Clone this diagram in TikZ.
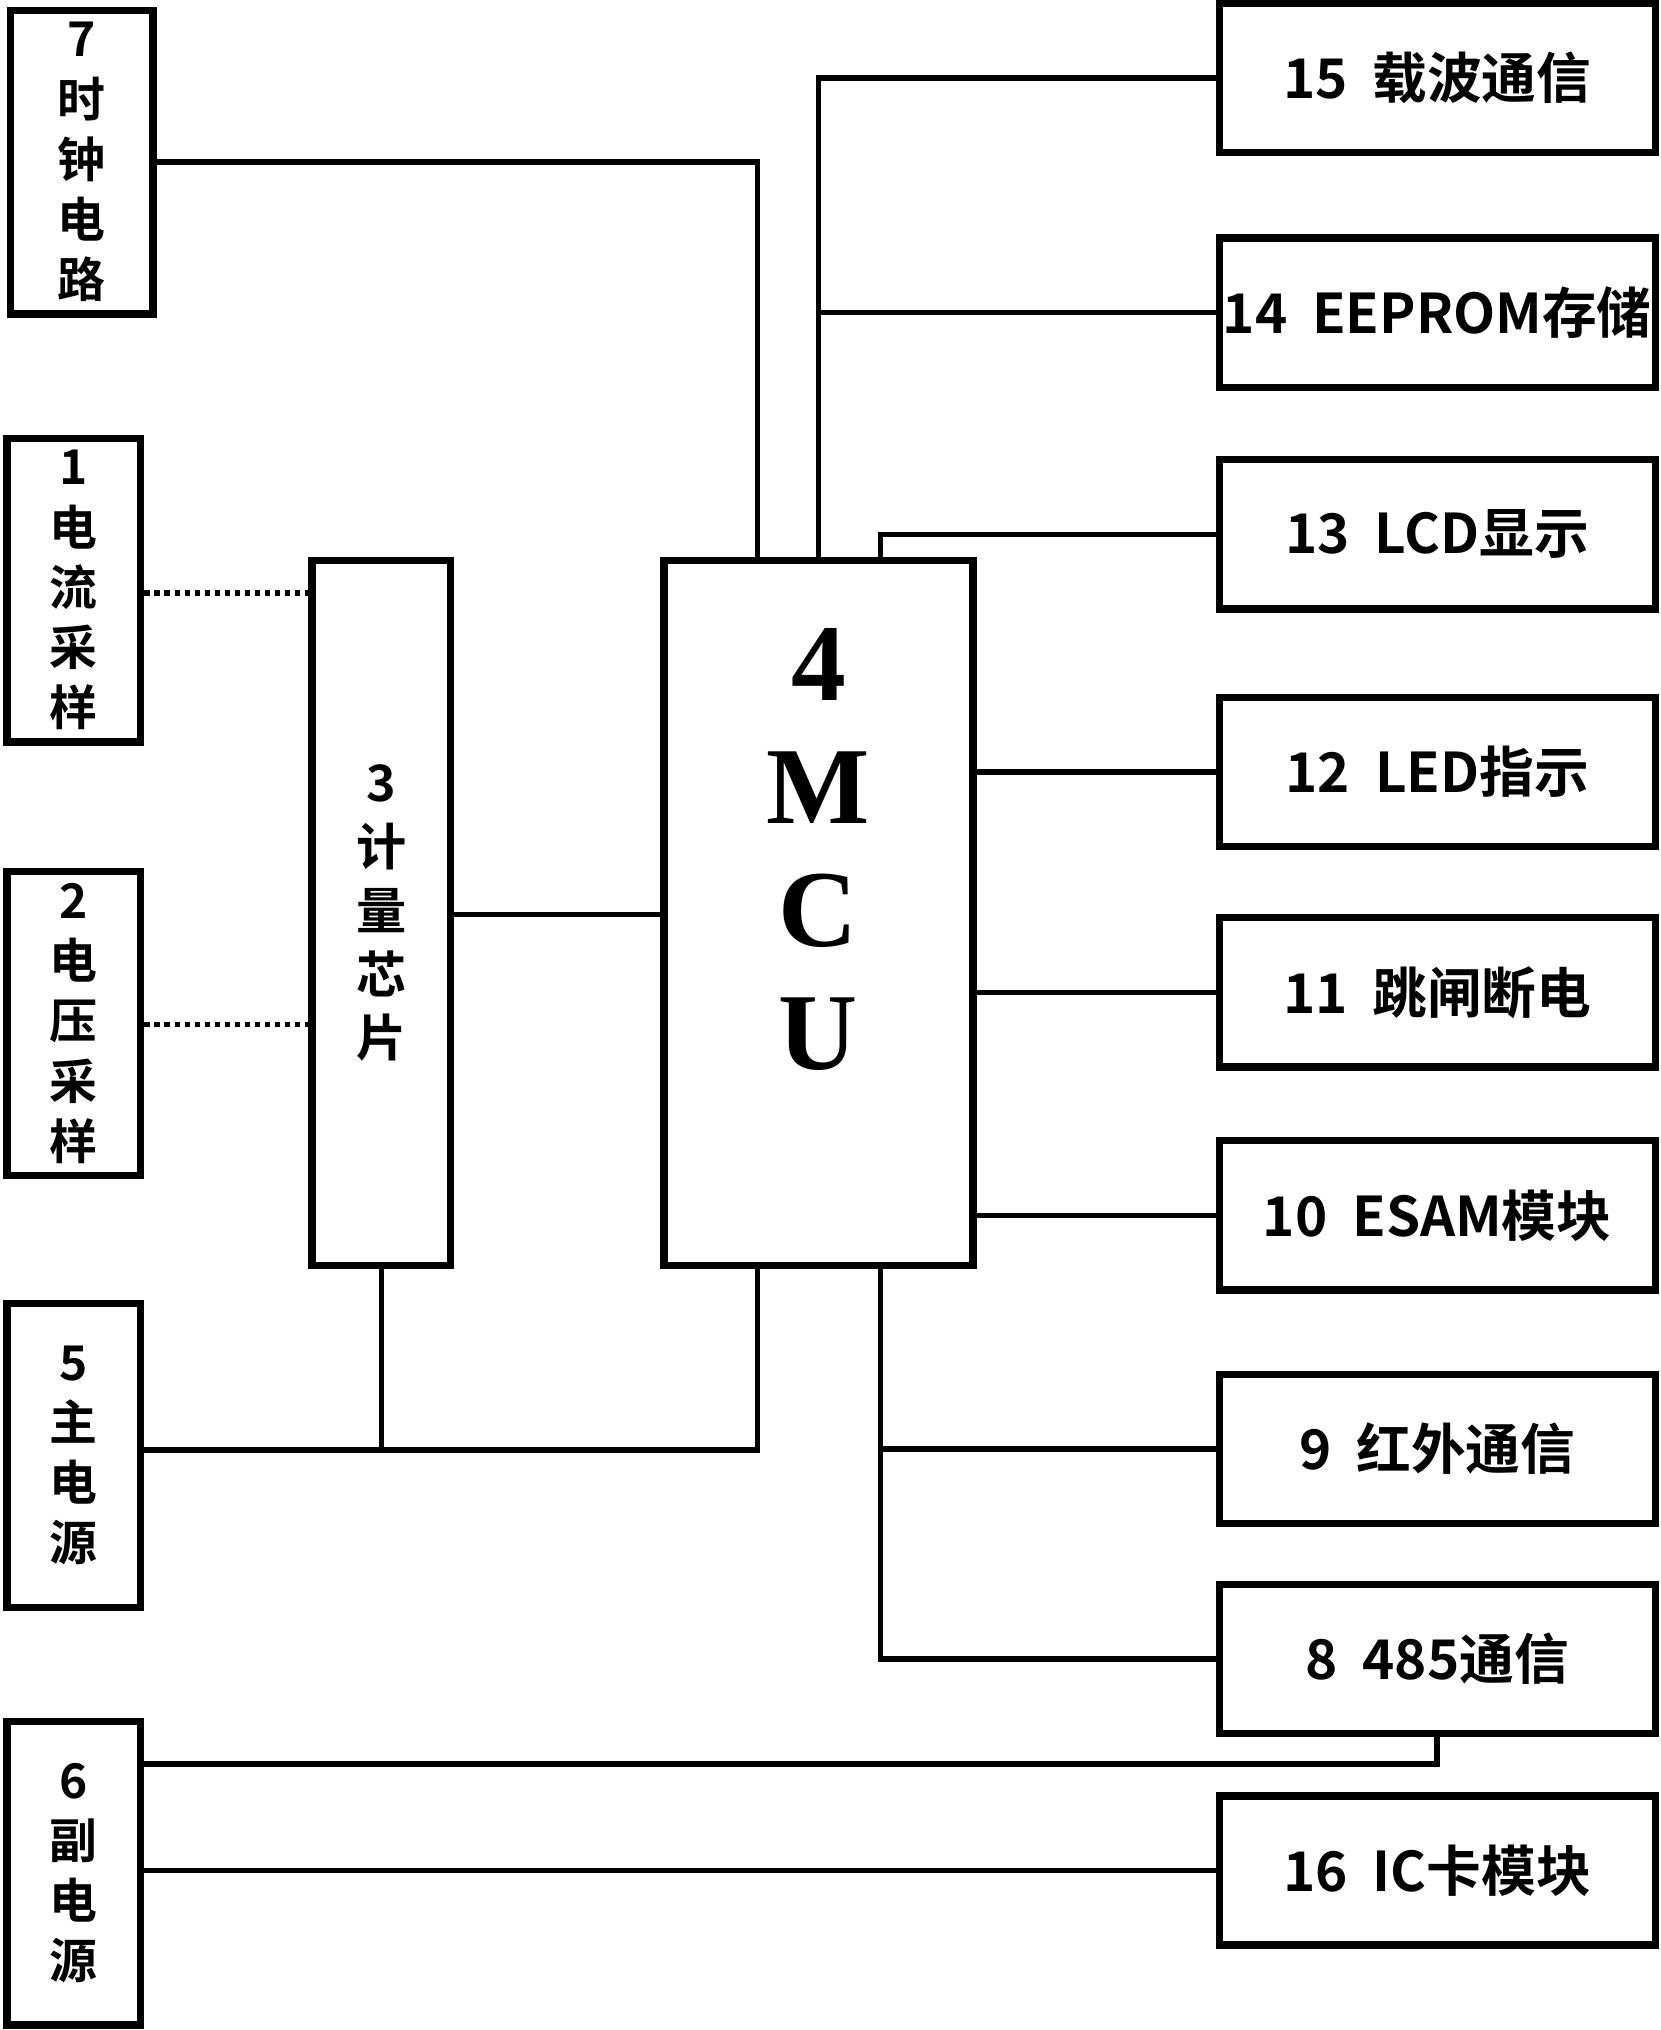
\documentclass[tikz,border=0pt]{standalone}
\usepackage{fontspec}
\setmainfont{Liberation Serif}
\newfontfamily\cjk{Noto Sans CJK SC}[BoldFont={* Bold}]
\usetikzlibrary{positioning,shapes}

\begin{document}
\begin{tikzpicture}[
            x=0.01cm, y=-0.01cm,
            blk/.style={draw, line width=1.6pt, inner sep=0pt, align=center,
                font=\cjk\bfseries\fontsize{10.5}{13.2}\selectfont},
            side/.style={blk, minimum width=1.03cm, minimum height=2.34cm},
            right/.style={blk, minimum width=3.36cm, minimum height=1.15cm,
                font=\cjk\bfseries\fontsize{12}{14}\selectfont},
            wire/.style={line width=1.2pt}
        ]
            \useasboundingbox (0,0) rectangle (1280,1565);
            % Left column
            \node[side, minimum width=1.10cm] (p7) at (63,125) {7\\时\\钟\\电\\路};
            \node[side] (p1) at (57,455) {1\\电\\流\\采\\样};
            \node[side] (p2) at (57,789) {2\\电\\压\\采\\样};
            \node[side] (p5) at (57,1122) {5\\主\\电\\源};
            \node[side] (p6) at (57,1444) {6\\副\\电\\源};
            % Middle
            \node[side, minimum width=1.07cm, minimum height=5.43cm] (p3) at (294,704) {};
            \node[align=center, font=\cjk\bfseries\fontsize{11}{14}\selectfont] (p3t) at (294,704) {3\\计\\量\\芯\\片};
            \node[blk, minimum width=2.38cm, minimum height=5.43cm] (p4) at (631,704) {};
            \node[align=center, font=\bfseries\fontsize{24}{27}\selectfont] (p4t) at (631,655) {4\\M\\C\\U};
            % Right column
            \node[right] (p15) at (1108,60) {15\ \ 载波通信};
            \node[right] (p14) at (1108,241) {14\ \ EEPROM存储};
            \node[right] (p13) at (1108,412) {13\ \ LCD显示};
            \node[right] (p12) at (1108,595) {12\ \ LED指示};
            \node[right] (p11) at (1108,765) {11\ \ 跳闸断电};
            \node[right] (p10) at (1108,937) {10\ \ ESAM模块};
            \node[right] (p9) at (1108,1117) {9\ \ 红外通信};
            \node[right] (p8) at (1108,1279) {8\ \ 485通信};
            \node[right] (p16) at (1108,1442) {16\ \ IC卡模块};
            % Connections
            \draw[wire] (p7.east |- 0,125) -| (p4.north -| 584,0);
            \draw[wire] (p15.west) -| (p4.north -| 631,0);
            \draw[wire] (p14.west) -- (631,241);
            \draw[wire] (p13.west) -| (p4.north -| 679,0);
            \draw[wire] (p4.east |- p12) -- (p12.west);
            \draw[wire] (p4.east |- p11) -- (p11.west);
            \draw[wire] (p4.east |- p10) -- (p10.west);
            \draw[wire, densely dotted] (p1.east |- 0,457) -- (p3.west |- 0,457);
            \draw[wire, densely dotted] (p2.east |- 0,790) -- (p3.west |- 0,790);
            \draw[wire] (p3.east |- 0,705) -- (p4.west |- 0,705);
            \draw[wire] (p5.east |- 0,1118) -| (p4.south -| 584,0);
            \draw[wire] (p3.south) -- (294,1118);
            \draw[wire] (p4.south -| 679,0) |- (p8.west);
            \draw[wire] (679,1117) -- (p9.west);
            \draw[wire] (p6.east |- 0,1360) -| (p8.south);
            \draw[wire] (p6.east |- p16) -- (p16.west);
        \end{tikzpicture}
\end{document}
